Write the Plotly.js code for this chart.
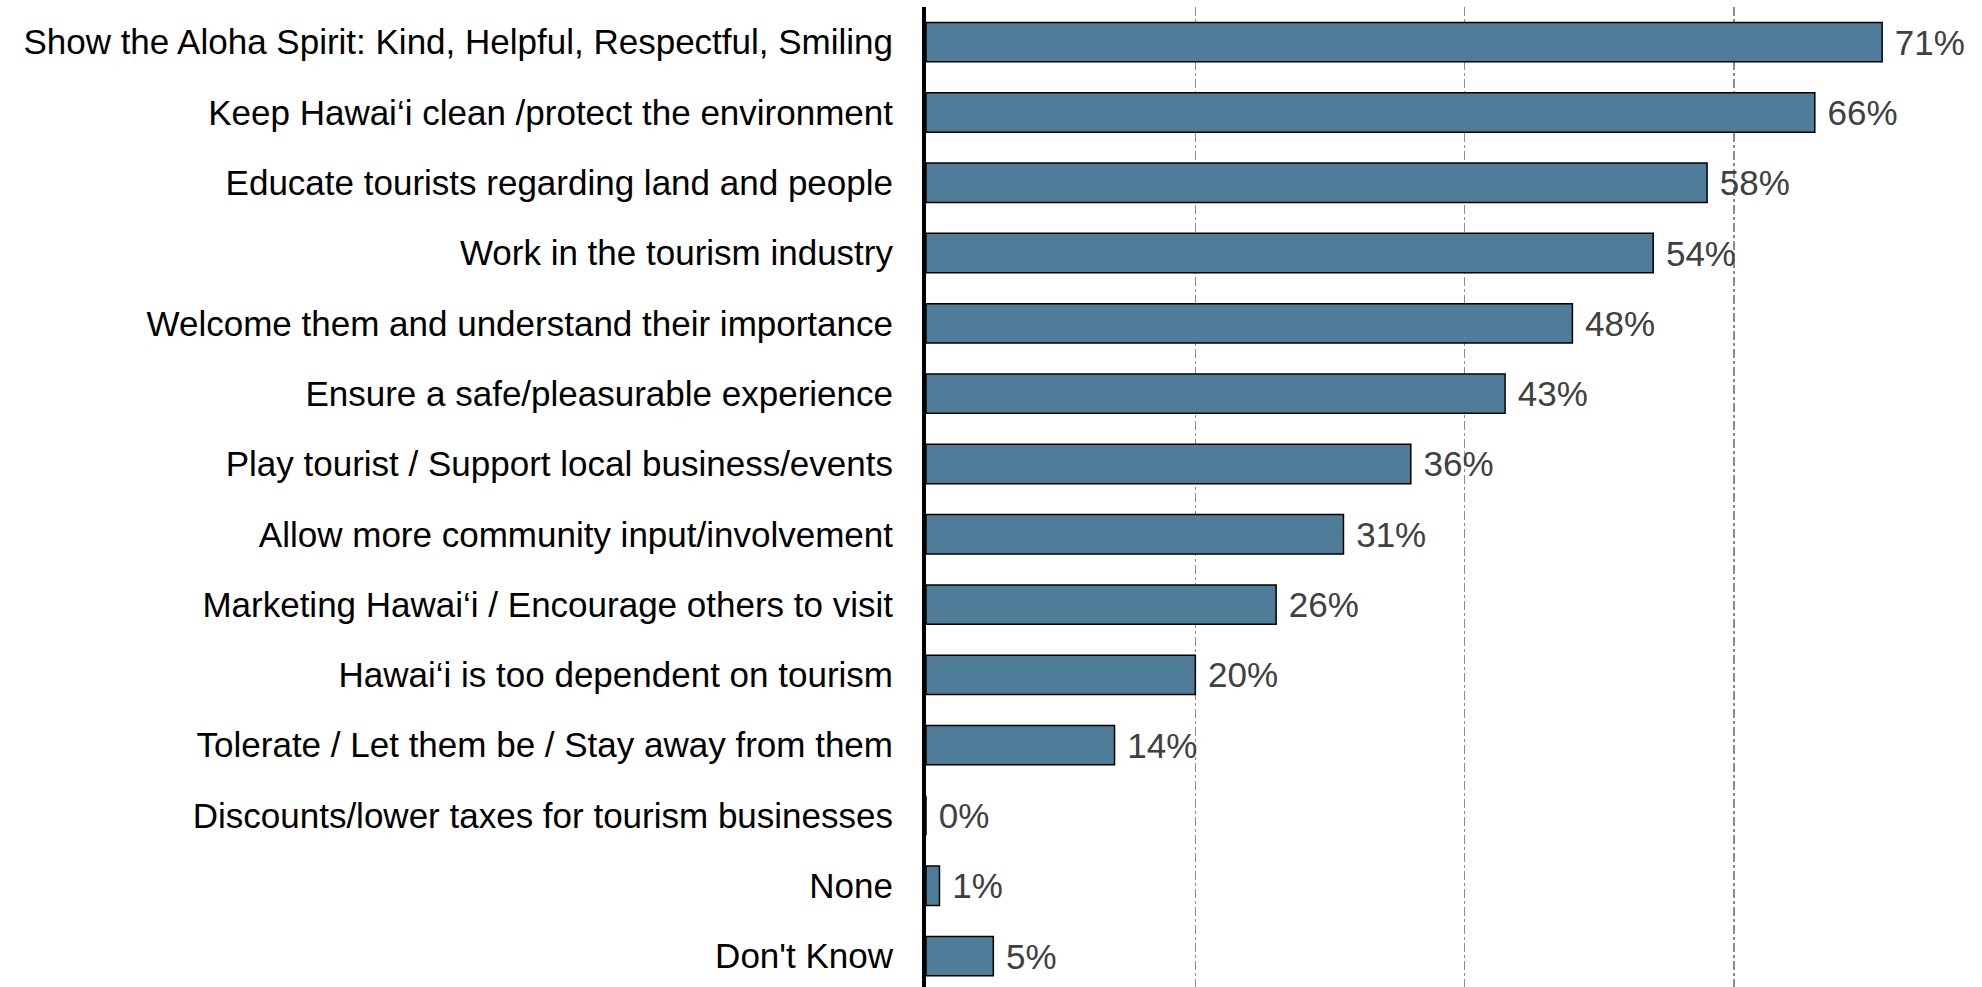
<!DOCTYPE html>
<html>
<head>
<meta charset="utf-8">
<script src="https://cdn.plot.ly/plotly-3.0.1.min.js"></script>
<style>html,body{margin:0;padding:0;background:#fff;}#chart{width:1982px;height:987px;}</style>
</head>
<body>
<div id="chart"></div>
<script>
const categories = [
  "Show the Aloha Spirit: Kind, Helpful, Respectful, Smiling",
  "Keep Hawai\u2018i clean /protect the environment",
  "Educate tourists regarding land and people",
  "Work in the tourism industry",
  "Welcome them and understand their importance",
  "Ensure a safe/pleasurable experience",
  "Play tourist / Support local business/events",
  "Allow more community input/involvement",
  "Marketing Hawai\u2018i / Encourage others to visit",
  "Hawai\u2018i is too dependent on tourism",
  "Tolerate / Let them be / Stay away from them",
  "Discounts/lower taxes for tourism businesses",
  "None",
  "Don't Know"
];
const values = [71, 66, 58, 54, 48, 43, 36, 31, 26, 20, 14, 0, 1, 5];
const valueLabels = values.map(v => v + "%");

const trace = {
  type: "bar",
  orientation: "h",
  x: values,
  y: categories,
  text: valueLabels,
  texttemplate: " %{text}",
  textposition: "outside",
  cliponaxis: false,
  textfont: {family: "Liberation Sans, Arial, sans-serif", size: 35, color: "#404040"},
  marker: {color: "#4e7c99", line: {color: "#000000", width: 1.5}},
  width: 0.56,
  hoverinfo: "none"
};

const layout = {
  width: 1982,
  height: 987,
  margin: {l: 926, r: 46, t: 7, b: 0},
  paper_bgcolor: "#ffffff",
  plot_bgcolor: "#ffffff",
  showlegend: false,
  xaxis: {
    range: [0, 75],
    tickvals: [20, 40, 60],
    showticklabels: false,
    showgrid: true,
    gridcolor: "#8c8c8c",
    griddash: "dashdot",
    gridwidth: 1.5,
    zeroline: false,
    showline: false,
    ticks: ""
  },
  yaxis: {
    type: "category",
    categoryorder: "array",
    categoryarray: categories,
    range: [13.44, -0.5],
    showgrid: false,
    zeroline: false,
    showline: true,
    linecolor: "#000000",
    linewidth: 4,
    ticks: "",
    ticklabelstandoff: 22,
    tickfont: {family: "Liberation Sans, Arial, sans-serif", size: 35, color: "#000000"}
  }
};

Plotly.newPlot("chart", [trace], layout, {displayModeBar: false, staticPlot: true});
</script>
</body>
</html>
